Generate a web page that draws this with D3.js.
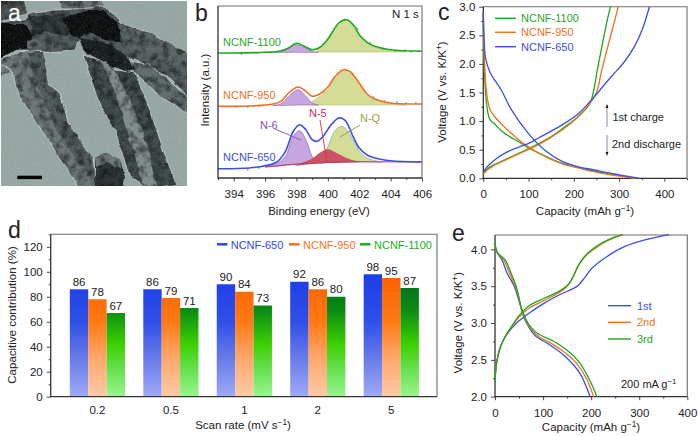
<!DOCTYPE html>
<html><head><meta charset="utf-8">
<script src="https://cdn.jsdelivr.net/npm/d3@7"></script>
<style>
html,body{margin:0;padding:0;background:#fff}
svg{display:block}
text{font-family:"Liberation Sans",Arial,sans-serif;fill:#222}
</style></head><body>
<script>
// ---------- panel d data
const scanRates = ["0.2","0.5","1","2","5"];
const contrib650 = [86,86,90,92,98];
const contrib950 = [78,79,84,86,95];
const contrib1100 = [67,71,73,80,87];

// ---------- panel b data: [binding energy, intensity]
const xps1100 = [[393,125],[394,125],[396,125.7],[397,126.7],[397.5,130],[398,134.7],[398.5,131.7],[399,128.3],[399.5,130.7],[400,139],[400.7,155],[401.2,158.3],[401.7,151.7],[402,143.3],[402.5,135.7],[403,131.7],[404,128.3],[406,126.7]];
const xps950 = [[393,71.7],[395,72],[396.5,74],[397,76.7],[397.5,85],[398.1,91],[398.6,86.7],[399,81.7],[399.5,84.3],[400,91],[400.5,102.3],[401,108.3],[401.4,106.7],[402,95],[402.5,84],[403,79],[404,75],[406,74]];
const xps650 = [[393,9.3],[395,10],[396,12.3],[396.8,16.7],[397.3,26.7],[397.8,46.7],[398.2,53.3],[398.6,48.3],[399,38.3],[399.3,36.7],[399.7,41.7],[400.2,53],[400.7,60],[401.1,57.7],[401.6,41.7],[402,30],[402.5,23],[403,20],[404,17.3],[406,16]];
// [binding energy, peak top, peak base]
const n6_650 = [[396,12,11],[396.8,15,12],[397.3,21.7,13],[397.8,41.7,13.5],[398.2,47.3,14],[398.6,38.3,14.5],[399,21.7,15.5],[399.3,16.7,16.2]];
const n5_650 = [[398,12.7,12.7],[399,19,14.5],[399.5,25,15],[400,28.3,15.5],[400.5,25,15.8],[401,21,16],[401.5,17.7,16.2],[402,16.3,16.3]];
const nq_650 = [[399.5,18.3,15],[400,31.7,15.5],[400.5,48.3,15.8],[400.9,51.7,16],[401.2,48.3,16],[401.7,35,16],[402,26.7,16],[402.5,20,16],[403,17.3,16],[403.5,16,16]];
const n6_950 = [[396.5,73,72.5],[397,74,72.5],[397.5,81.7,72.7],[398.1,88.3,73],[398.6,81.7,73],[399,75,73],[399.4,73,73]];
const nq_950 = [[399,76.7,73],[399.5,81.7,73],[400,89,73],[400.5,100,73],[401,106.7,73],[401.5,104.3,73],[402,93.3,73],[402.5,83.3,73],[403,78.3,73],[404,74.3,73],[405,73.3,73]];
const n6_1100 = [[396.5,126,125.7],[397,127.7,125.7],[397.5,130,125.7],[398,133.3,125.7],[398.5,130.7,125.7],[399,126.7,125.7],[399.4,125.7,125.7]];
const nq_1100 = [[399.3,126.7,126],[400,138.3,126],[400.5,150,126],[401,156.7,126],[401.3,157.7,126],[401.7,150,126],[402,142.3,126],[402.5,135,126],[403,130.7,126],[404,127.7,126],[405,126.7,126]];
const rawPts = [[394.5,124],[395.5,125],[403.5,129],[404.3,127],[404.9,128],[405.3,126],[405.8,127],[402.7,135],[401.9,149],[398.9,128],[394.2,71],[394.9,71],[395.6,72],[402.9,81],[403.6,77],[404.4,76],[405,75],[405.6,75],[401.6,104],[399.7,86],[394.9,8],[395.6,10]];

// ---------- panel c data: [capacity, voltage]
const cCharge650 = [[0,0.1],[5,0.17],[15,0.25],[30,0.35],[50,0.45],[80,0.55],[100,0.61],[121,0.7],[173,0.93],[210,1.13],[239,1.37],[283,1.78],[310,2.02],[335,2.32],[352,2.62],[367,3.0]];
const cDisch650 = [[0,2.9],[2,2.4],[5,2.1],[15,1.85],[40,1.54],[62,1.2],[99,0.79],[136,0.49],[173,0.3],[210,0.2],[246,0.145],[283,0.087],[345,0]];
const cCharge950 = [[0,0.07],[5,0.12],[15,0.18],[30,0.25],[60,0.36],[90,0.47],[120,0.58],[150,0.72],[180,0.88],[210,1.08],[235,1.3],[250,1.5],[262,1.9],[275,2.3],[290,2.75],[298,3.0]];
const cDisch950 = [[0,2.9],[1,2.4],[3,2.0],[6,1.6],[10,1.35],[15,1.2],[25,1.08],[40,0.95],[60,0.8],[80,0.66],[100,0.55],[125,0.43],[150,0.33],[175,0.25],[200,0.2],[230,0.14],[260,0.09],[300,0.04],[335,0]];
const cCharge1100 = [[0,0.1],[5,0.14],[15,0.2],[30,0.26],[60,0.37],[90,0.48],[120,0.6],[150,0.73],[180,0.9],[210,1.08],[235,1.3],[243,1.5],[252,1.9],[262,2.3],[272,2.7],[281,3.0]];
const cDisch1100 = [[0,2.9],[1,2.3],[3,1.8],[6,1.4],[10,1.15],[15,1.02],[25,0.95],[40,0.83],[60,0.72],[80,0.63],[100,0.53],[125,0.43],[150,0.34],[175,0.26],[200,0.21],[230,0.15],[260,0.1],[300,0.05],[335,0]];

// ---------- panel e data
const eCharge1 = [[0,2.2],[3,2.45],[10,2.65],[20,2.8],[35,2.93],[50,3.03],[70,3.13],[100,3.26],[130,3.37],[160,3.46],[173,3.51],[187,3.62],[201,3.74],[230,3.89],[270,4.04],[312,4.13],[340,4.17],[362,4.2]];
const eCharge2 = [[0,2.2],[3,2.45],[10,2.65],[20,2.8],[35,2.95],[50,3.08],[70,3.2],[100,3.3],[130,3.4],[150,3.5],[160,3.6],[175,3.8],[190,3.92],[210,4.02],[235,4.12],[265,4.2]];
const eCharge3 = [[0,2.2],[3,2.45],[10,2.65],[20,2.8],[35,2.96],[50,3.1],[70,3.23],[100,3.33],[130,3.42],[152,3.52],[162,3.62],[175,3.8],[190,3.93],[210,4.04],[235,4.13],[265,4.2]];
const eDisch1 = [[0,4.02],[5,3.95],[15,3.85],[25,3.68],[40,3.5],[50,3.3],[60,3.08],[70,2.95],[85,2.82],[110,2.72],[140,2.58],[165,2.42],[180,2.28],[195,2.05],[198,2.0]];
const eDisch2 = [[0,4.05],[5,3.95],[18,3.86],[30,3.68],[45,3.45],[55,3.2],[65,3.02],[75,2.92],[90,2.82],[115,2.73],[145,2.6],[170,2.45],[190,2.25],[205,2.0]];
const eDisch3 = [[0,4.1],[5,3.96],[22,3.85],[32,3.7],[45,3.48],[55,3.2],[65,3.04],[75,2.94],[90,2.85],[120,2.76],[150,2.63],[175,2.47],[195,2.25],[212,2.0]];

// ---------- panel a: sketch of the micrograph (outlines in image units 0-187, fills)
const micrographShapes = [
 [[-3,62],[11,72],[-3,78]],
 [[-3,60],[13,55],[28,50],[43,52],[48,83],[60,93],[68,122],[82,142],[93,157],[97,190],[80,190],[50,143],[32,115],[20,97],[12,72]],
 [[28,52],[43,52],[49,85],[60,95],[68,125],[82,145],[92,160],[94,180],[76,160],[55,127],[43,98],[32,72]],
 [[-3,-3],[23,-3],[27,14],[-3,22]],
 [[58,-3],[100,-3],[107,12],[80,9],[62,8]],
 [[-3,22],[25,20],[33,12],[58,10],[90,8],[103,6],[117,16],[120,23],[150,33],[170,43],[191,55],[191,100],[170,78],[140,62],[120,55],[100,45],[80,40],[75,50],[45,52],[18,50],[-3,60]],
 [[118,25],[150,33],[170,43],[191,55],[191,80],[165,60],[135,50],[125,45]],
 [[-3,24],[25,24],[30,30],[32,36],[30,48],[15,50],[-3,60]],
 [[30,16],[60,14],[70,20],[68,36],[45,32],[32,36]],
 [[62,18],[90,10],[103,10],[117,22],[122,42],[105,40],[90,32],[78,38],[72,36]],
 [[83,55],[100,60],[115,70],[135,73],[150,110],[165,155],[176,184],[147,190],[128,172],[115,130],[100,105],[88,70]],
 [[100,60],[110,60],[130,100],[147,145],[157,190],[145,190],[133,150],[115,93]],
 [[122,60],[150,65],[175,85],[191,100],[191,115],[165,100],[140,78]],
 [[78,38],[105,42],[125,55],[135,68],[128,72],[110,65],[85,52]],
 [[27,40],[37,38],[43,46],[35,50],[27,48]],
 [[95,158],[107,153],[120,160],[125,177],[123,190],[95,190]],
 [[95,158],[107,153],[120,160],[121,168],[107,162],[96,168]]
];
const micrographFills = ["#7f8c8b","#6a7474","#4f5858","#4a5252","#667070","#50595a","#586262","#0a0e0e","#2e3636","#0c1010","#3f494a","#7f8b89","#5f6a6a","#1a2020","#5b6565","#2a3132","#6a7474"];

const blue="#3a50e2", orange="#f07020", green="#1fa81f";
const svg=d3.select("body").append("svg").attr("width",698).attr("height",436);
const defs=svg.append("defs");

function txt(x,y,s,o={}){
  const t=svg.append("text").attr("x",x).attr("y",y).attr("font-size",o.size||11.5).attr("text-anchor",o.anchor||"start").style("fill",o.fill||"#222");
  if(o.rotate) t.attr("transform",`rotate(-90 ${x} ${y})`);
  if(o.sup){t.append("tspan").text(s);t.append("tspan").attr("dy",-4).attr("font-size",(o.size||11.5)*.72).text(o.sup);if(o.after)t.append("tspan").attr("dy",4).text(o.after);}
  else t.text(s);
  return t;
}
function frame(x0,x1,y0,y1){
  svg.append("path").attr("d",`M${x0},${y0}H${x1}V${y1}`).attr("fill","none").attr("stroke","#6d6d6d").attr("stroke-width",1.1);
  svg.append("path").attr("d",`M${x0},${y0}V${y1}H${x1}`).attr("fill","none").attr("stroke","#333").attr("stroke-width",1.3);
}
function axisStyle(g,size){
  g.selectAll(".domain").remove();
  g.selectAll("line").attr("stroke","#333").attr("stroke-width",.9);
  g.selectAll("text").attr("font-size",size||11.5).style("font-family",'"Liberation Sans",Arial,sans-serif').style("fill","#222");
}
function xAxis(x,yPos,major,minor,fmt,tickDy){
  const m=svg.append("g").attr("transform",`translate(0,${yPos})`).call(d3.axisBottom(x).tickValues(minor).tickSize(2).tickFormat(""));
  axisStyle(m);
  const g=svg.append("g").attr("transform",`translate(0,${yPos})`).call(d3.axisBottom(x).tickValues(major).tickSize(3.5).tickPadding(tickDy||8).tickFormat(fmt||d3.format("d")));
  axisStyle(g);
}
function yAxis(y,xPos,major,minor,fmt){
  const m=svg.append("g").attr("transform",`translate(${xPos},0)`).call(d3.axisLeft(y).tickValues(minor).tickSize(2).tickFormat(""));
  axisStyle(m);
  const g=svg.append("g").attr("transform",`translate(${xPos},0)`).call(d3.axisLeft(y).tickValues(major).tickSize(4).tickPadding(4).tickFormat(fmt));
  axisStyle(g);
}

// ---------- panel a
(function(){
  const px=d3.scaleLinear().domain([0,187]).range([0,187]);
  const line=d3.line().x(d=>px(d[0])).y(d=>px(d[1])).curve(d3.curveLinearClosed);
  defs.append("clipPath").attr("id","photo").append("rect").attr("x",1).attr("y",1).attr("width",186).attr("height",185);
  const soft=defs.append("filter").attr("id","soft").attr("filterUnits","userSpaceOnUse").attr("x",-10).attr("y",-10).attr("width",210).attr("height",210).attr("color-interpolation-filters","sRGB");
  soft.append("feTurbulence").attr("type","fractalNoise").attr("baseFrequency",.11).attr("numOctaves",2).attr("seed",3).attr("result","n");
  soft.append("feDisplacementMap").attr("in","SourceGraphic").attr("in2","n").attr("scale",4).attr("xChannelSelector","R").attr("yChannelSelector","G");
  soft.append("feGaussianBlur").attr("stdDeviation",.5);
  const mk=(id,freq,seed,rgb,a,b)=>{
    const f=defs.append("filter").attr("id",id).attr("x",0).attr("y",0).attr("width",1).attr("height",1).attr("color-interpolation-filters","sRGB");
    f.append("feTurbulence").attr("type","fractalNoise").attr("baseFrequency",freq).attr("numOctaves",3).attr("seed",seed);
    f.append("feColorMatrix").attr("type","matrix").attr("values",`0 0 0 0 ${rgb} 0 0 0 0 ${rgb} 0 0 0 0 ${rgb} ${a} 0 0 0 ${b}`);
  };
  mk("grainD",.13,5,0,2.6,-1.05);
  mk("grainL",.6,9,1,2.2,-.95);
  const mask=defs.append("mask").attr("id","fibreMask").attr("maskUnits","userSpaceOnUse").attr("x",0).attr("y",0).attr("width",190).attr("height",190);
  mask.append("g").attr("filter","url(#soft)").selectAll("path").data(micrographShapes).join("path").attr("d",line).attr("fill","#fff");
  const g=svg.append("g").attr("clip-path","url(#photo)");
  g.append("rect").attr("x",1).attr("y",1).attr("width",186).attr("height",185).attr("fill","#94a5a2");
  const s=g.append("g").attr("filter","url(#soft)");
  s.selectAll("path").data(micrographShapes).join("path").attr("d",line)
    .attr("fill",(d,i)=>micrographFills[i]).attr("stroke",(d,i)=>(i==1||i==5||i==10||i==12)?"#e2e9e6":"none").attr("stroke-width",.8).attr("stroke-opacity",.8);
  g.append("g").attr("mask","url(#fibreMask)").append("rect").attr("x",1).attr("y",1).attr("width",186).attr("height",185).attr("filter","url(#grainD)").attr("opacity",.5);
  g.append("rect").attr("x",1).attr("y",1).attr("width",186).attr("height",185).attr("filter","url(#grainL)").attr("opacity",.12);
  g.append("rect").attr("x",17.3).attr("y",175.7).attr("width",24.7).attr("height",3.4).attr("fill","#050505");
  txt(8,21,"a",{size:23,fill:"#fff"});
})();

// ---------- panel b
(function(){
  const x0=218,x1=422,y0=6,y1=178;
  const x=d3.scaleLinear().domain([393,406]).range([x0+.0,x1]);
  const y=d3.scaleLinear().domain([0,172]).range([y1,y0]);
  const area=d3.area().x(d=>x(d[0])).y0(d=>y(d[2])).y1(d=>y(d[1])).curve(d3.curveCatmullRom);
  const line=d3.line().x(d=>x(d[0])).y(d=>y(d[1])).curve(d3.curveCatmullRom);
  const pat=defs.append("pattern").attr("id","dots").attr("width",2).attr("height",2).attr("patternUnits","userSpaceOnUse");
  pat.append("rect").attr("width",2).attr("height",2).attr("fill","#c8405c");
  pat.append("circle").attr("cx",1).attr("cy",1).attr("r",.5).attr("fill","#e0a080");
  const peak=(d,fill,stroke)=>svg.append("path").attr("d",area(d)).attr("fill",fill).attr("stroke",stroke).attr("stroke-width",.7);
  peak(nq_1100,"#d3dd98","#b9c47a"); peak(n6_1100,"#c8a6e2","#9a70b8");
  peak(nq_950,"#d3dd98","#b9c47a"); peak(n6_950,"#c8a6e2","#9a70b8");
  peak(nq_650,"#d3dd98","#8fa59a"); peak(n6_650,"#c8a6e2","#8a68a8"); peak(n5_650,"url(#dots)","#c43a58");
  svg.append("path").attr("d",d3.line().x(d=>x(d[0])).y(d=>y(d[2]))([[396,0,11],[398,0,14],[400,0,15.5],[402,0,16.3],[406,0,16]])).attr("fill","none").attr("stroke","#c43a58").attr("stroke-width",1);
  svg.append("g").selectAll("circle").data(rawPts).join("circle").attr("cx",d=>x(d[0])).attr("cy",d=>y(d[1])).attr("r",.8).attr("fill","#777");
  [[xps1100,green],[xps950,orange],[xps650,blue]].forEach(([d,c])=>svg.append("path").attr("d",line(d)).attr("fill","none").attr("stroke",c).attr("stroke-width",1.6));
  frame(x0,x1,y0,y1);
  xAxis(x,y1,d3.range(394,407,2),d3.range(393,406,2));
  txt(319,215,"Binding energy (eV)",{anchor:"middle"});
  txt(209,90,"Intensity (a.u.)",{anchor:"middle",rotate:true});
  txt(392,18,"N 1 s",{size:11.5});
  txt(223,46,"NCNF-1100",{fill:green,size:11});
  txt(223,99,"NCNF-950",{fill:orange,size:11});
  txt(223,161,"NCNF-650",{fill:blue,size:11});
  txt(260,129,"N-6",{fill:"#8a4fb0",size:11});
  txt(309,117,"N-5",{fill:"#d42a55",size:11});
  txt(360,122,"N-Q",{fill:"#9aa040",size:11});
  const lead=(a,b,c)=>svg.append("line").attr("x1",a[0]).attr("y1",a[1]).attr("x2",b[0]).attr("y2",b[1]).attr("stroke",c).attr("stroke-width",.9);
  lead([275,129],[301,140],"#8a4fb0"); lead([320,120],[327,162],"#d42a55"); lead([360,125],[340,137],"#8a9a30");
})();

// ---------- panel c
(function(){
  const x0=483.3,x1=687,y0=6.7,y1=178.3;
  const x=d3.scaleLinear().domain([0,450]).range([x0,x1]);
  const y=d3.scaleLinear().domain([0,3]).range([y1,y0]);
  const line=d3.line().x(d=>x(d[0])).y(d=>y(d[1])).curve(d3.curveCatmullRom);
  frame(x0,x1,y0,y1);
  [[cCharge1100,green],[cDisch1100,green],[cCharge950,orange],[cDisch950,orange],[cCharge650,blue],[cDisch650,blue]].forEach(([d,c])=>
    svg.append("path").attr("d",line(d)).attr("fill","none").attr("stroke",c).attr("stroke-width",1.3));
  xAxis(x,y1,d3.range(0,401,100),d3.range(50,451,100));
  yAxis(y,x0,d3.range(0,3.01,.5),d3.range(.25,3,.5),d3.format(".1f"));
  txt(585,215,"Capacity (mAh g",{anchor:"middle",sup:"−1",after:")"});
  txt(446,92,"Voltage (V vs. K/K",{anchor:"middle",rotate:true,sup:"+",after:")"});
  [["NCNF-1100",green,18.3],["NCNF-950",orange,32.3],["NCNF-650",blue,46.7]].forEach(([s,c,yy])=>{
    svg.append("line").attr("x1",495).attr("x2",516).attr("y1",yy).attr("y2",yy).attr("stroke",c).attr("stroke-width",1.4);
    txt(521,yy+4,s,{fill:c,size:11});
  });
  txt(612.5,121,"1st charge",{size:11});
  txt(612,148,"2nd discharge",{size:11});
  svg.append("line").attr("x1",607).attr("x2",607).attr("y1",127).attr("y2",105).attr("stroke","#7a8296").attr("stroke-width",.9);
  svg.append("line").attr("x1",607).attr("x2",607).attr("y1",135).attr("y2",153).attr("stroke","#7a8296").attr("stroke-width",.9);
  svg.append("path").attr("d","M605.6,108L607,104L608.4,108Z").attr("fill","#111");
  svg.append("path").attr("d","M605.6,152L607,156L608.4,152Z").attr("fill","#111");
})();

// ---------- panel d
(function(){
  const x0=50.7,x1=437,y0=234.3,y1=396.7;
  const y=d3.scaleLinear().domain([0,130]).range([y1,y0]);
  const x=d3.scaleBand().domain(scanRates).range([60.7,428]);
  const bw=18.4;
  const off=[-bw*1.5,-bw*.5,bw*.5];
  const grads=[["g650",[[100,"#1c3ce8"],[60,"#2f50e8"],[30,"#6a7ce8"],[0,"#9eaaf8"]]],
               ["g950",[[100,"#f95f00"],[60,"#ff7a14"],[30,"#ffa86e"],[0,"#fdcaa6"]]],
               ["g1100",[[100,"#00651e"],[70,"#0a8a14"],[42,"#3cd000"],[22,"#66e050"],[0,"#9af68c"]]]];
  grads.forEach(([id,st])=>{
    const g=defs.append("linearGradient").attr("id",id).attr("gradientUnits","userSpaceOnUse").attr("x1",0).attr("x2",0).attr("y1",y(100)).attr("y2",y(0));
    st.forEach(([v,c])=>g.append("stop").attr("offset",(100-v)+"%").attr("stop-color",c));
  });
  [[contrib650,"g650"],[contrib950,"g950"],[contrib1100,"g1100"]].forEach(([vals,id],k)=>{
    const g=svg.append("g");
    g.selectAll("rect").data(vals).join("rect")
      .attr("x",(d,i)=>x(scanRates[i])+x.bandwidth()/2+off[k]).attr("width",bw)
      .attr("y",d=>y(d)).attr("height",d=>y(0)-y(d)).attr("fill",`url(#${id})`);
    g.selectAll("text").data(vals).join("text")
      .attr("x",(d,i)=>x(scanRates[i])+x.bandwidth()/2+off[k]+bw/2).attr("y",d=>y(d)-3.5)
      .attr("text-anchor","middle").attr("font-size",11.5).style("fill","#222").text(d=>d);
  });
  frame(x0,x1,y0,y1);
  const b=svg.append("g").attr("transform",`translate(0,${y1})`).call(d3.axisBottom(x).tickSize(0).tickPadding(9));
  axisStyle(b);
  yAxis(y,x0,d3.range(0,121,20),d3.range(10,131,20),d3.format("d"));
  txt(243,429,"Scan rate (mV s",{anchor:"middle",sup:"−1",after:")"});
  txt(16,315,"Capacitive contribution (%)",{anchor:"middle",rotate:true});
  [["NCNF-650","#2c48e8",217,230.7],["NCNF-950","#f9701a",289,303],["NCNF-1100","#18b018",360,374]].forEach(([s,c,a,t])=>{
    svg.append("line").attr("x1",a).attr("x2",a+10.5).attr("y1",244.3).attr("y2",244.3).attr("stroke",c).attr("stroke-width",2.5);
    txt(t,248.5,s,{fill:c,size:11});
  });
})();

// ---------- panel e
(function(){
  const x0=495,x1=687.3,y0=235,y1=396.7;
  const x=d3.scaleLinear().domain([0,400]).range([x0,x1]);
  const y=d3.scaleLinear().domain([2,4.195]).range([y1,y0]);
  const line=d3.line().x(d=>x(d[0])).y(d=>y(d[1])).curve(d3.curveCatmullRom);
  frame(x0,x1,y0,y1);
  [[eCharge1,blue],[eDisch1,blue],[eCharge2,orange],[eDisch2,orange],[eCharge3,green],[eDisch3,green]].forEach(([d,c])=>
    svg.append("path").attr("d",line(d)).attr("fill","none").attr("stroke",c).attr("stroke-width",1.3));
  xAxis(x,y1,d3.range(0,401,100),d3.range(50,400,100),d3.format("d"),9);
  yAxis(y,x0,d3.range(2,4.01,.5),d3.range(2.25,4.2,.5),d3.format(".1f"));
  txt(591,431,"Capacity (mAh g",{anchor:"middle",sup:"−1",after:")"});
  txt(462,322.7,"Voltage (V vs. K/K",{anchor:"middle",rotate:true,sup:"+",after:")"});
  [["1st",blue,305.7],["2nd",orange,322.3],["3rd",green,339]].forEach(([s,c,yy])=>{
    svg.append("line").attr("x1",608).attr("x2",631).attr("y1",yy).attr("y2",yy).attr("stroke",c).attr("stroke-width",1.4);
    txt(637,yy+4,s,{fill:c,size:11});
  });
  txt(621,388,"200 mA g",{size:11,sup:"−1"});
})();

// ---------- panel letters
txt(195,21,"b",{size:23}); txt(438,20,"c",{size:23}); txt(8,238,"d",{size:23}); txt(452,241,"e",{size:23});
</script>
</body></html>
